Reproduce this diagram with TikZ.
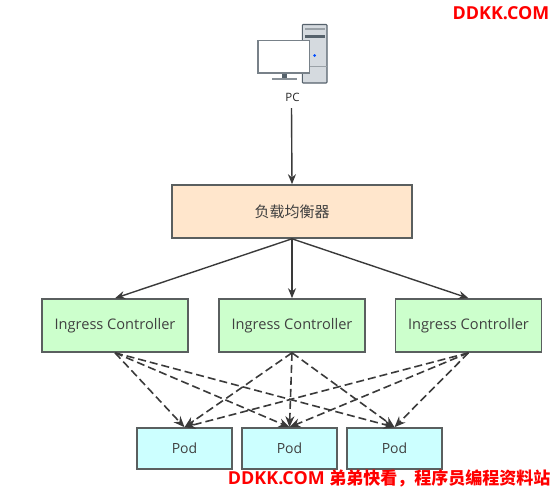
\documentclass[tikz,border=0pt]{standalone}
\usepackage{fontspec}
\setmainfont{Open Sans}
\newfontfamily\cjk{Noto Sans CJK SC}
\usetikzlibrary{arrows.meta}
\definecolor{edgegray}{HTML}{5A5F5F}
\definecolor{lbfill}{HTML}{FFE6CC}
\definecolor{ingfill}{HTML}{CCFFCC}
\definecolor{podfill}{HTML}{CCFFFF}
\definecolor{linegray}{HTML}{3A3A3A}
\definecolor{towerfill}{HTML}{D5DADF}
\definecolor{towerdark}{HTML}{56626C}
\tikzset{
  box/.style={draw=edgegray,line width=1.6pt,inner sep=0pt,text=black!75,font=\fontsize{14}{16}\selectfont},
  lbbox/.style={box,fill=lbfill,minimum width=240pt,minimum height=53pt,font=\fontsize{15}{17}\selectfont},
  ingbox/.style={box,fill=ingfill,minimum width=146pt,minimum height=53pt,font=\fontsize{14.6}{16}\selectfont},
  podbox/.style={box,fill=podfill,minimum width=95pt,minimum height=41pt},
  solidarrow/.style={draw=linegray,line width=1.4pt,-{Stealth[length=10pt,width=8pt]}},
  dasharrow/.style={draw=linegray,line width=1.6pt,dash pattern=on 8pt off 4pt,-{Stealth[length=11pt,width=9pt]}},
  wmark/.style={text=red,font=\bfseries\fontsize{17.9}{20}\selectfont,inner sep=0pt}
}
\begin{document}
\begin{tikzpicture}[x=1pt,y=-1pt]
\useasboundingbox (0,0) rectangle (553,488);
% computer icon
\draw[towerdark,line width=1.1pt,fill=towerfill,rounded corners=0.8pt] (302.3,24.5) rectangle (327,83);
\fill[towerdark] (304.5,34.5) rectangle (324.5,37.5);
\fill[towerdark!60] (305,28) rectangle (324.5,30);
\draw[towerdark!60,line width=0.5pt] (303,66.5) -- (326.5,66.5);
\fill[blue!70!cyan] (314.7,55.5) circle (1.5pt);
\fill[towerdark] (281.5,73) rectangle (286.5,78);
\fill[towerdark!70] (271.5,77.5) rectangle (296.5,79.5);
\draw[towerdark!80,line width=1.2pt,fill=white] (258,40.5) rectangle (309.5,73);
\node[inner sep=0pt,text=black!85,font=\fontsize{11.5}{12}\selectfont] (pc) at (292.5,97) {PC};
\coordinate (pcout) at (291.5,108);
% boxes
\node[lbbox] (lb) at (292,211.5) {\cjk 负载均衡器};
\node[ingbox] (i1) at (115,325.5) {Ingress Controller};
\node[ingbox] (i2) at (292,325.5) {Ingress Controller};
\node[ingbox] (i3) at (468.5,325.5) {Ingress Controller};
\node[podbox] (p1) at (184.5,448.5) {Pod};
\node[podbox] (p2) at (289.5,448.5) {Pod};
\node[podbox] (p3) at (394.5,448.5) {Pod};
% connectors
\draw[solidarrow] (pcout) -- (lb.north);
\draw[solidarrow] (lb.south) -- (i1.north);
\draw[solidarrow] (lb.south) -- (i2.north);
\draw[solidarrow] (lb.south) -- (i3.north);
\foreach \a in {i1,i2,i3}{
  \foreach \b in {p1,p2,p3}{
    \draw[dasharrow] (\a.south) -- (\b.north);
  }
}
% watermarks
\node[wmark,anchor=east] (w1) at (549.5,13.5) {DDKK.COM};
\node[wmark,anchor=east] (w2) at (550.5,478) {DDKK.COM {\fontsize{17}{20}\selectfont\cjk 弟弟快看，程序员编程资料站}};
\end{tikzpicture}
\end{document}
